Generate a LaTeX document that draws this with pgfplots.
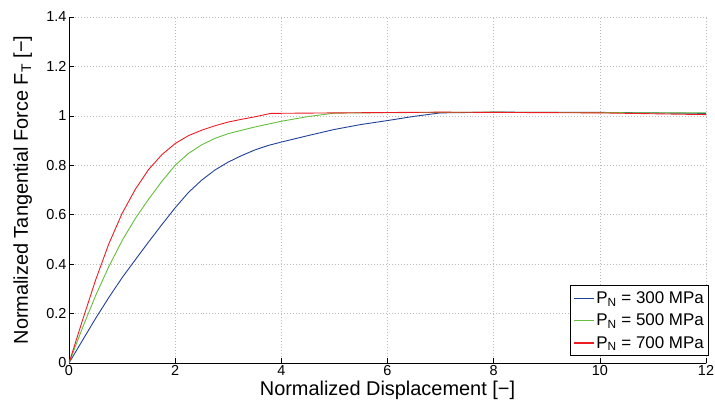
\documentclass[border=0pt]{standalone}
\usepackage{pgfplots}
\pgfplotsset{compat=1.18}
\usepackage{fontspec}
\setmainfont{Liberation Sans}
\setsansfont{Liberation Sans}
\definecolor{mblue}{RGB}{33,64,154}
\definecolor{mgreen}{RGB}{100,190,60}
\definecolor{mred}{RGB}{237,28,36}
\begin{document}
\begin{tikzpicture}
\begin{axis}[
  scale only axis,
  width=637bp, height=346bp,
  xmin=0, xmax=12, ymin=0, ymax=1.4,
  xtick={0,2,...,12},
  ytick={0,0.2,...,1.4},
  yticklabels={0,0.2,0.4,0.6,0.8,1,1.2,1.4},
  axis lines=left,
  axis line style={-, line width=0.8pt},
  tick style={black, line width=0.6pt},
  tick align=inside,
  major tick length=5pt,
  grid=major,
  grid style={dash pattern=on 1pt off 2pt, gray!55, line width=0.5pt},
  /pgf/number format/assume math mode=true,
  tick label style={font=\fontsize{14.5}{16}\selectfont},
  xticklabel style={yshift=1pt},
  yticklabel style={xshift=1pt},
  label style={font=\fontsize{20}{22}\selectfont},
  xlabel={Normalized Displacement [\textminus]},
  ylabel={Normalized Tangential Force F\textsubscript{T} [\textminus]},
  xlabel style={at={(axis description cs:0.5,0)}, anchor=base, yshift=-32bp},
  ylabel style={at={(axis description cs:0,0.5)}, anchor=base, yshift=41bp},
  legend style={at={(1.005,0.02)}, anchor=south east, draw=black, line width=0.8pt,
    font=\fontsize{17}{19}\selectfont, row sep=5pt, inner xsep=3pt, inner ysep=4pt},
  legend cell align=left,
  legend image code/.code={\draw[#1, line width=1.1pt] (0bp,0bp) -- (20bp,0bp);},
]
\addplot[mblue, line width=0.9pt, line join=round] coordinates {
(0,0) (0.25,0.09) (0.5,0.18) (0.75,0.265) (1,0.345) (1.25,0.418) (1.5,0.49) (1.75,0.56) (2,0.628) (2.25,0.69) (2.5,0.74) (2.75,0.781) (3,0.813) (3.25,0.839) (3.5,0.862) (3.75,0.88) (4,0.894) (4.5,0.92) (5,0.945) (5.5,0.965) (6,0.981) (6.5,0.998) (7,1.012) (8,1.015) (10,1.014) (12,1.01)};
\addlegendentry{P\textsubscript{N} = 300 MPa}
\addplot[mgreen, line width=0.9pt, line join=round] coordinates {
(0,0) (0.25,0.14) (0.5,0.272) (0.75,0.39) (1,0.495) (1.25,0.585) (1.5,0.663) (1.75,0.735) (2,0.80) (2.25,0.848) (2.5,0.883) (2.75,0.909) (3,0.928) (3.5,0.955) (4,0.978) (4.5,0.997) (5,1.011) (6,1.013) (8,1.015) (10,1.013) (12,1.012)};
\addlegendentry{P\textsubscript{N} = 500 MPa}
\addplot[mred, line width=0.9pt, line join=round] coordinates {
(0,0) (0.25,0.17) (0.5,0.335) (0.75,0.482) (1,0.605) (1.25,0.703) (1.5,0.783) (1.75,0.843) (2,0.888) (2.25,0.92) (2.5,0.942) (2.75,0.96) (3,0.975) (3.25,0.986) (3.5,0.996) (3.8,1.01) (5,1.012) (7,1.015) (10,1.012) (12,1.005)};
\addlegendentry{P\textsubscript{N} = 700 MPa}
\coordinate (sw) at (rel axis cs:0,0);
\coordinate (ne) at (rel axis cs:1,1);
\end{axis}
\pgfresetboundingbox
\path[use as bounding box] ([xshift=-69bp,yshift=-40bp]sw) rectangle ([xshift=9bp,yshift=17bp]ne);
\end{tikzpicture}
\end{document}
